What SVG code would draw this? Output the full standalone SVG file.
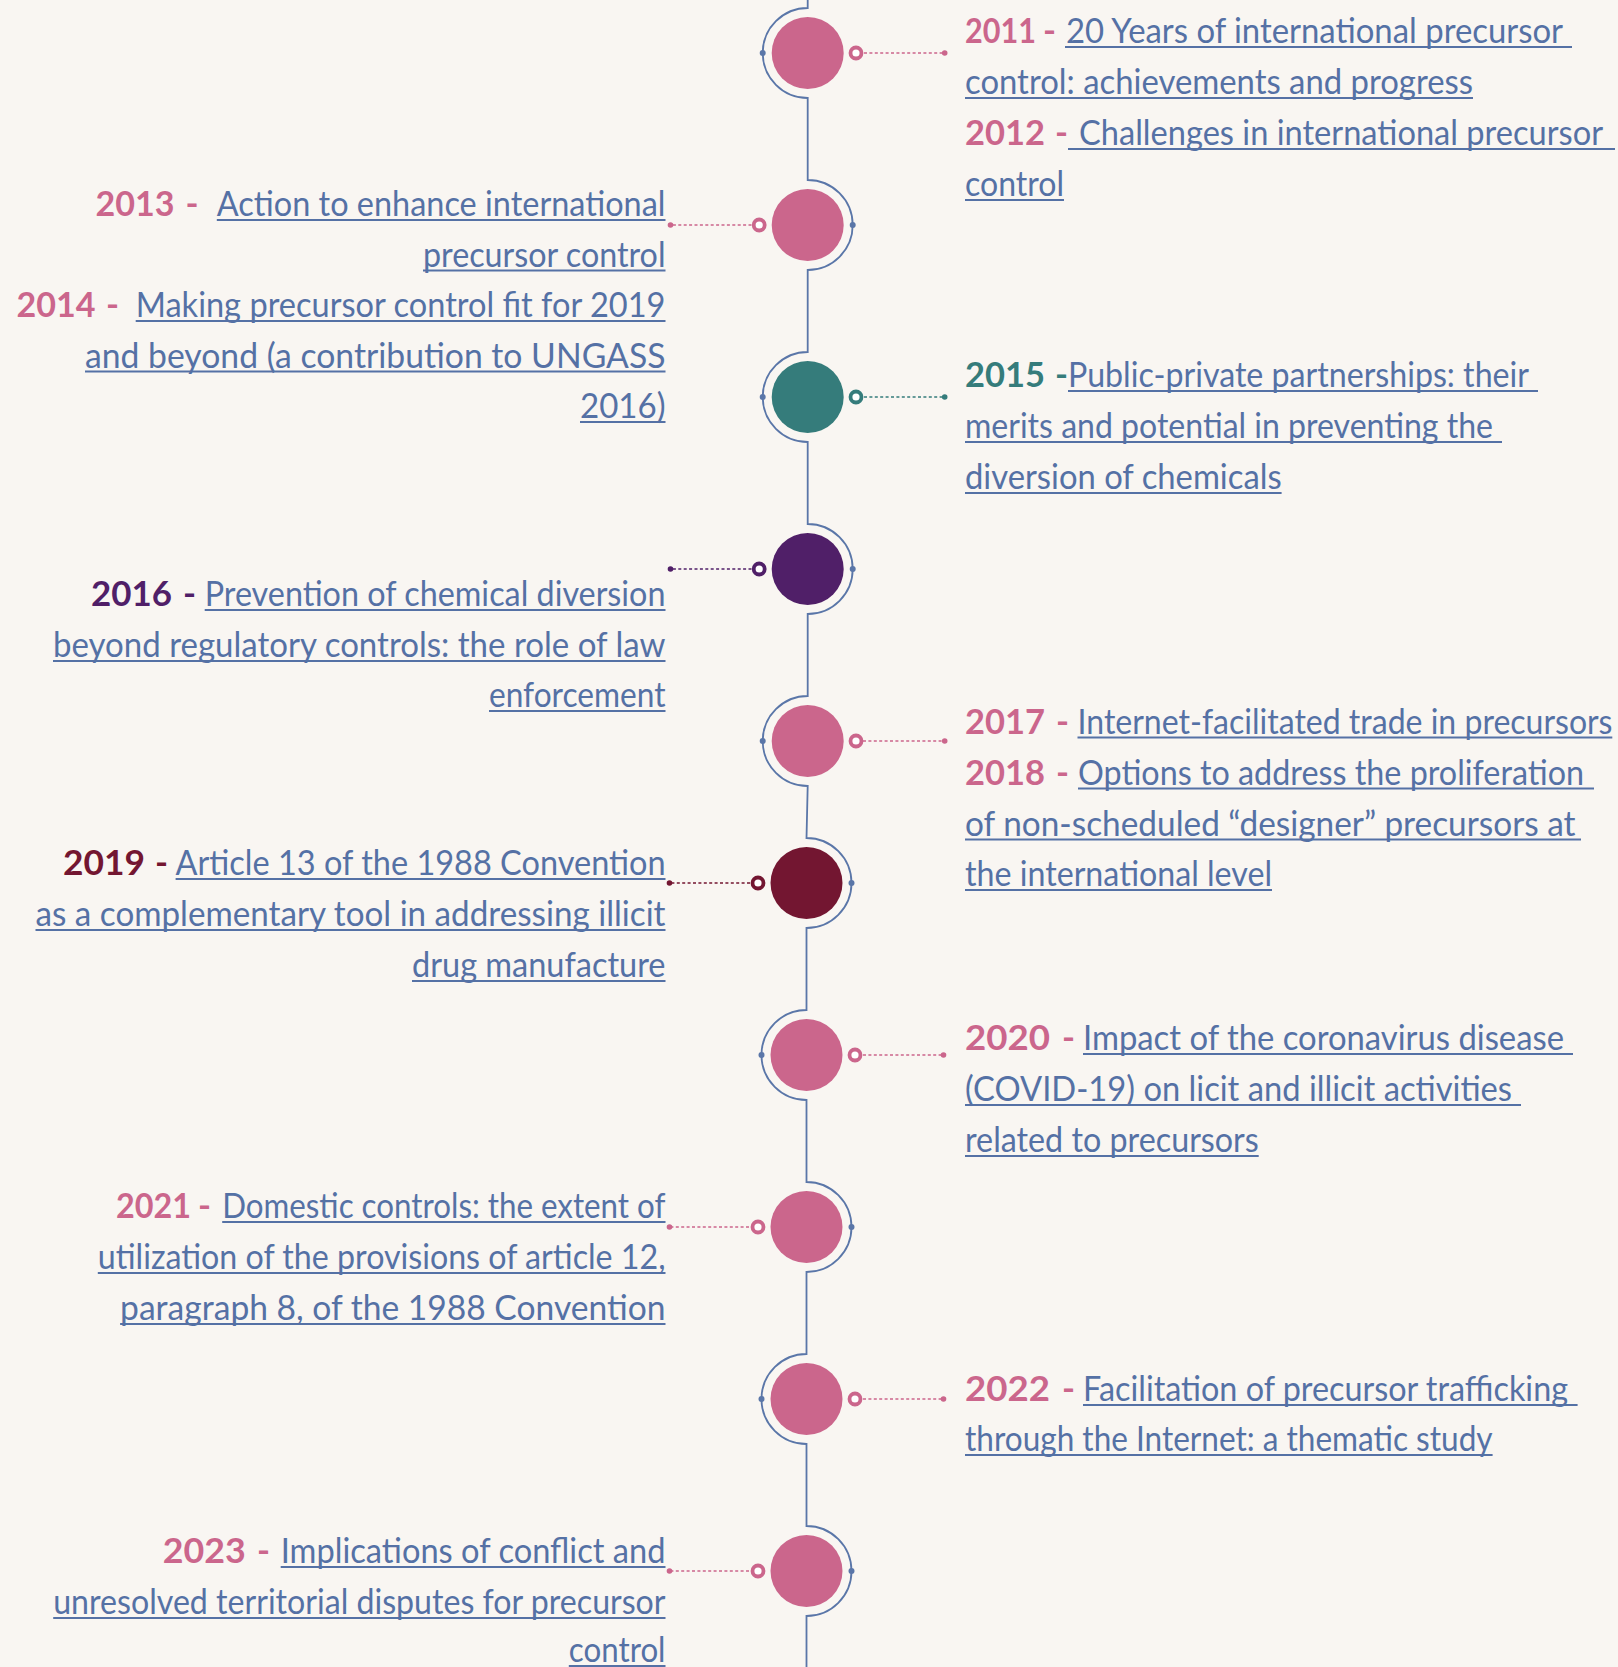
<svg xmlns="http://www.w3.org/2000/svg" width="1618" height="1667" viewBox="0 0 1618 1667">
<style>
.spine{fill:none;stroke:#5a76a8;stroke-width:1.8}
.adot{fill:#5a76a8}
.lk{font-family:Lato,"Liberation Sans",sans-serif;font-size:35px;fill:#5571a5}
.yr{font-family:Lato,"Liberation Sans",sans-serif;font-size:35px;font-weight:700}
.ul{stroke:#5571a5;stroke-width:1.8;fill:none}
.pk{fill:#cb668c}.tl{fill:#357c7b}.pu{fill:#501f68}.mr{fill:#731631}
.ring{fill:#ffffff;stroke-width:3.8}
.dash{fill:none;stroke-width:1.4;stroke-dasharray:3 2.4}
.end{text-anchor:end}
</style>
<rect width="1618" height="1667" fill="#f9f6f2"/>
<g id="connectors">
<path class="spine" d="M807.7 0V8A45 45 0 0 0 807.7 98V180A45 45 0 0 1 807.7 270V352A45 45 0 0 0 807.7 442V524A45 45 0 0 1 807.7 614V696A45 45 0 0 0 807.7 786L806.5 838A45 45 0 0 1 806.5 928V1010A45 45 0 0 0 806.5 1100V1182A45 45 0 0 1 806.5 1272V1354A45 45 0 0 0 806.5 1444V1526A45 45 0 0 1 806.5 1616V1667"/>
<path class="dash" stroke="#cb668c" d="M864 53H944.7M751.5 225H670.5M863 741H944.7M749 1227H669.5M863 1055H943.5M863 1399H943.5M749 1571H669.5"/>
<path class="dash" stroke="#357c7b" d="M864 397H944.7"/>
<path class="dash" stroke="#501f68" d="M751.5 569H670.5"/>
<path class="dash" stroke="#731631" d="M750 883H669.5"/>
</g>
<g id="node-2011">
<circle cx="807.7" cy="53" r="36" class="pk"/><circle cx="762.7" cy="53" r="3" class="adot"/>
<circle cx="856" cy="53" r="5.5" class="ring" stroke="#cb668c"/><circle cx="944.7" cy="53" r="2.8" class="pk"/>
<text class="yr pk" x="965" y="43" textLength="71" lengthAdjust="spacingAndGlyphs">2011</text>
<text class="yr pk" x="1043" y="43">-</text>
<text class="lk" x="1066" y="43" textLength="497" lengthAdjust="spacingAndGlyphs">20 Years of international precursor</text>
<text class="lk" x="965" y="94" textLength="508" lengthAdjust="spacingAndGlyphs">control: achievements and progress</text>
<text class="yr pk" x="965" y="145" textLength="80" lengthAdjust="spacingAndGlyphs">2012</text>
<text class="yr pk" x="1055" y="145">-</text>
<text class="lk end" x="1603" y="145" textLength="524" lengthAdjust="spacingAndGlyphs">Challenges in international precursor</text>
<text class="lk" x="965" y="196" textLength="99" lengthAdjust="spacingAndGlyphs">control</text>
<path class="ul" d="M1065 47H1572M965 98H1473M1068 149H1615M965 200H1064"/>
</g>
<g id="node-2013">
<circle cx="807.7" cy="225" r="36" class="pk"/><circle cx="852.7" cy="225" r="3" class="adot"/>
<circle cx="759.2" cy="225" r="5.5" class="ring" stroke="#cb668c"/><circle cx="670.5" cy="225" r="2.8" class="pk"/>
<text class="yr pk" x="95.4" y="216" textLength="79" lengthAdjust="spacingAndGlyphs">2013</text>
<text class="yr pk" x="185.6" y="216">-</text>
<text class="lk" x="216.8" y="216" textLength="448.7" lengthAdjust="spacingAndGlyphs">Action to enhance international</text>
<text class="lk" x="423" y="266.5" textLength="242.5" lengthAdjust="spacingAndGlyphs">precursor control</text>
<text class="yr pk" x="16.5" y="317" textLength="79" lengthAdjust="spacingAndGlyphs">2014</text>
<text class="yr pk" x="106" y="317">-</text>
<text class="lk" x="135.7" y="317" textLength="529.8" lengthAdjust="spacingAndGlyphs">Making precursor control fit for 2019</text>
<text class="lk" x="85" y="367.5" textLength="580.5" lengthAdjust="spacingAndGlyphs">and beyond (a contribution to UNGASS</text>
<text class="lk" x="580" y="418" textLength="85.5" lengthAdjust="spacingAndGlyphs">2016)</text>
<path class="ul" d="M216.8 220H665.5M423 270.5H665.5M135.7 321H665.5M85 371.5H665.5M580 422H665.5"/>
</g>
<g id="node-2015">
<circle cx="807.7" cy="397" r="36" class="tl"/><circle cx="762.7" cy="397" r="3" class="adot"/>
<circle cx="856" cy="397" r="5.5" class="ring" stroke="#357c7b"/><circle cx="944.7" cy="397" r="2.8" class="tl"/>
<text class="yr tl" x="965" y="387" textLength="80" lengthAdjust="spacingAndGlyphs">2015</text>
<text class="yr tl" x="1055" y="387">-</text>
<text class="lk" x="1068" y="387" textLength="461" lengthAdjust="spacingAndGlyphs">Public-private partnerships: their</text>
<text class="lk" x="965" y="438" textLength="528" lengthAdjust="spacingAndGlyphs">merits and potential in preventing the</text>
<text class="lk" x="965" y="489" textLength="316.6" lengthAdjust="spacingAndGlyphs">diversion of chemicals</text>
<path class="ul" d="M1068 391H1538M965 442H1502M965 493H1281.6"/>
</g>
<g id="node-2016">
<circle cx="807.7" cy="569" r="36" class="pu"/><circle cx="852.7" cy="569" r="3" class="adot"/>
<circle cx="759.2" cy="569" r="5.5" class="ring" stroke="#501f68"/><circle cx="670.5" cy="569" r="2.8" class="pu"/>
<text class="yr pu" x="91" y="606" textLength="81" lengthAdjust="spacingAndGlyphs">2016</text>
<text class="yr pu" x="183" y="606">-</text>
<text class="lk" x="204.7" y="606" textLength="460.8" lengthAdjust="spacingAndGlyphs">Prevention of chemical diversion</text>
<text class="lk" x="53" y="657" textLength="612.5" lengthAdjust="spacingAndGlyphs">beyond regulatory controls: the role of law</text>
<text class="lk" x="489" y="707" textLength="176.5" lengthAdjust="spacingAndGlyphs">enforcement</text>
<path class="ul" d="M204.7 610H665.5M53 661H665.5M489 711H665.5"/>
</g>
<g id="node-2017">
<circle cx="807.7" cy="741" r="36" class="pk"/><circle cx="762.7" cy="741" r="3" class="adot"/>
<circle cx="856" cy="741" r="5.5" class="ring" stroke="#cb668c"/><circle cx="944.7" cy="741" r="2.8" class="pk"/>
<text class="yr pk" x="965" y="733.5" textLength="80" lengthAdjust="spacingAndGlyphs">2017</text>
<text class="yr pk" x="1056" y="733.5">-</text>
<text class="lk end" x="1612.5" y="733.5" textLength="535" lengthAdjust="spacingAndGlyphs">Internet-facilitated trade in precursors</text>
<text class="yr pk" x="965" y="784.5" textLength="80" lengthAdjust="spacingAndGlyphs">2018</text>
<text class="yr pk" x="1056" y="784.5">-</text>
<text class="lk end" x="1584" y="784.5" textLength="506" lengthAdjust="spacingAndGlyphs">Options to address the proliferation</text>
<text class="lk" x="965" y="835.5" textLength="610.5" lengthAdjust="spacingAndGlyphs">of non-scheduled “designer” precursors at</text>
<text class="lk" x="965" y="886" textLength="307" lengthAdjust="spacingAndGlyphs">the international level</text>
<path class="ul" d="M1077.5 737.5H1612.3M1078 788.5H1594M965 839.5H1581M965 890H1272"/>
</g>
<g id="node-2019">
<circle cx="806.5" cy="883" r="36" class="mr"/><circle cx="851.5" cy="883" r="3" class="adot"/>
<circle cx="758" cy="883" r="5.5" class="ring" stroke="#731631"/><circle cx="669.5" cy="883" r="2.8" class="mr"/>
<text class="yr mr" x="63" y="875" textLength="82" lengthAdjust="spacingAndGlyphs">2019</text>
<text class="yr mr" x="155" y="875">-</text>
<text class="lk" x="175.6" y="875" textLength="490" lengthAdjust="spacingAndGlyphs">Article 13 of the 1988 Convention</text>
<text class="lk" x="35.5" y="926" textLength="630" lengthAdjust="spacingAndGlyphs">as a complementary tool in addressing illicit</text>
<text class="lk" x="412" y="977" textLength="253.5" lengthAdjust="spacingAndGlyphs">drug manufacture</text>
<path class="ul" d="M175.6 879H665.5M35.5 930H665.5M412 981H665.5"/>
</g>
<g id="node-2020">
<circle cx="806.5" cy="1055" r="36" class="pk"/><circle cx="761.5" cy="1055" r="3" class="adot"/>
<circle cx="855" cy="1055" r="5.5" class="ring" stroke="#cb668c"/><circle cx="943.5" cy="1055" r="2.8" class="pk"/>
<text class="yr pk" x="965" y="1050" textLength="85" lengthAdjust="spacingAndGlyphs">2020</text>
<text class="yr pk" x="1062" y="1050">-</text>
<text class="lk" x="1083" y="1050" textLength="481" lengthAdjust="spacingAndGlyphs">Impact of the coronavirus disease</text>
<text class="lk" x="965" y="1101" textLength="547" lengthAdjust="spacingAndGlyphs">(COVID-19) on licit and illicit activities</text>
<text class="lk" x="965" y="1152" textLength="293.7" lengthAdjust="spacingAndGlyphs">related to precursors</text>
<path class="ul" d="M1083 1054H1573M965 1105H1521M965 1156H1258.7"/>
</g>
<g id="node-2021">
<circle cx="806.5" cy="1227" r="36" class="pk"/><circle cx="851.5" cy="1227" r="3" class="adot"/>
<circle cx="758" cy="1227" r="5.5" class="ring" stroke="#cb668c"/><circle cx="669.5" cy="1227" r="2.8" class="pk"/>
<text class="yr pk" x="116" y="1218" textLength="75" lengthAdjust="spacingAndGlyphs">2021</text>
<text class="yr pk" x="198" y="1218">-</text>
<text class="lk" x="222.2" y="1218" textLength="443.3" lengthAdjust="spacingAndGlyphs">Domestic controls: the extent of</text>
<text class="lk" x="97.8" y="1269" textLength="567.7" lengthAdjust="spacingAndGlyphs">utilization of the provisions of article 12,</text>
<text class="lk" x="120.1" y="1320" textLength="545.4" lengthAdjust="spacingAndGlyphs">paragraph 8, of the 1988 Convention</text>
<path class="ul" d="M222.2 1222H665.5M97.8 1273H665.5M120.1 1324H665.5"/>
</g>
<g id="node-2022">
<circle cx="806.5" cy="1399" r="36" class="pk"/><circle cx="761.5" cy="1399" r="3" class="adot"/>
<circle cx="855" cy="1399" r="5.5" class="ring" stroke="#cb668c"/><circle cx="943.5" cy="1399" r="2.8" class="pk"/>
<text class="yr pk" x="965" y="1401" textLength="85" lengthAdjust="spacingAndGlyphs">2022</text>
<text class="yr pk" x="1062" y="1401">-</text>
<text class="lk" x="1083" y="1401" textLength="485" lengthAdjust="spacingAndGlyphs">Facilitation of precursor trafficking</text>
<text class="lk" x="965" y="1451" textLength="527.6" lengthAdjust="spacingAndGlyphs">through the Internet: a thematic study</text>
<path class="ul" d="M1083 1405H1577.6M965 1455H1492.6"/>
</g>
<g id="node-2023">
<circle cx="806.5" cy="1571" r="36" class="pk"/><circle cx="851.5" cy="1571" r="3" class="adot"/>
<circle cx="758" cy="1571" r="5.5" class="ring" stroke="#cb668c"/><circle cx="669.5" cy="1571" r="2.8" class="pk"/>
<text class="yr pk" x="162.7" y="1563" textLength="83" lengthAdjust="spacingAndGlyphs">2023</text>
<text class="yr pk" x="257" y="1563">-</text>
<text class="lk" x="280.7" y="1563" textLength="384.8" lengthAdjust="spacingAndGlyphs">Implications of conflict and</text>
<text class="lk" x="53.2" y="1614" textLength="612.3" lengthAdjust="spacingAndGlyphs">unresolved territorial disputes for precursor</text>
<text class="lk" x="568.8" y="1662" textLength="96.7" lengthAdjust="spacingAndGlyphs">control</text>
<path class="ul" d="M280.7 1567H665.5M53.2 1618H665.5M568.8 1666H665.5"/>
</g>
</svg>
